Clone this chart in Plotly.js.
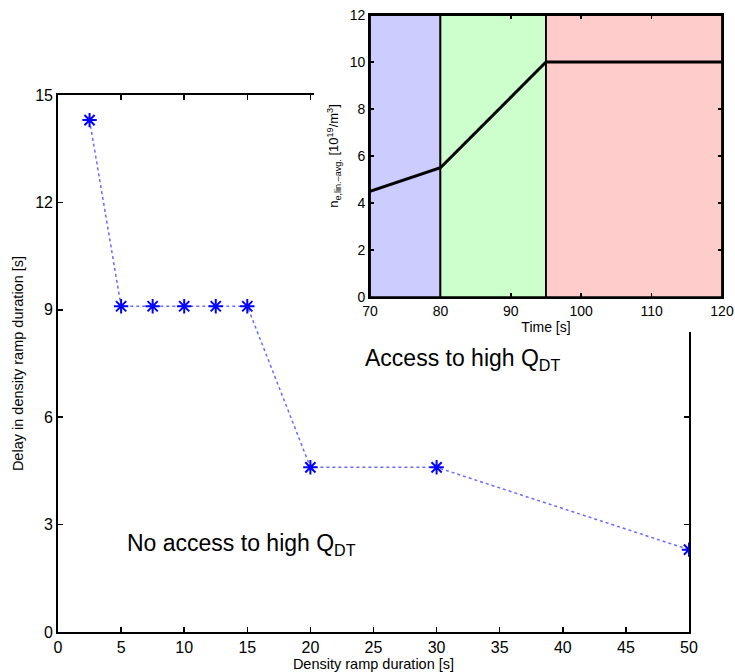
<!DOCTYPE html>
<html>
<head>
<meta charset="utf-8">
<script src="https://cdn.plot.ly/plotly-3.0.1.min.js"></script>
<style>html,body{margin:0;padding:0;background:#fff;}#chart{width:735px;height:672px;}</style>
</head>
<body>
<div id="chart"></div>
<script>
// Main chart data
const rampDuration = [2.5, 5, 7.5, 10, 12.5, 15, 20, 30, 50];
const delay = [14.3, 9.1, 9.1, 9.1, 9.1, 9.1, 4.6, 4.6, 2.3];
const mainXTicks = [0, 5, 10, 15, 20, 25, 30, 35, 40, 45, 50];
const mainYTicks = [0, 3, 6, 9, 12, 15];

// Inset data
const time = [70, 80, 95, 120];
const density = [4.5, 5.5, 10, 10];
const phaseStart = [70, 80, 95];
const phaseEnd = [80, 95, 120];
const phaseColors = ['#ccccff', '#ccffcc', '#ffcccc'];
const insetXTicks = [70, 80, 90, 100, 110, 120];
const insetYTicks = [0, 2, 4, 6, 8, 10, 12];
const insetYMax = 12;

const FONT = 'Liberation Sans, Arial, sans-serif';

const traces = [];
// main series
traces.push({
  x: rampDuration, y: delay, xaxis: 'x', yaxis: 'y',
  mode: 'lines+markers', type: 'scatter',
  line: {color: '#6a6aff', width: 1.5, dash: 'dot'},
  marker: {symbol: 'asterisk-open', size: 12, color: '#0000ff', line: {color: '#0000ff', width: 2}},
  hoverinfo: 'x+y'
});
// white cover behind inset (hides part of main axes box)
traces.push({
  x: [0, 1, 1, 0, 0], y: [0, 0, 1, 1, 0], xaxis: 'x2', yaxis: 'y2',
  type: 'scatter', mode: 'lines', fill: 'toself', fillcolor: '#ffffff',
  line: {width: 0, color: '#ffffff'}, hoverinfo: 'skip'
});
// inset phase regions
for (let i = 0; i < phaseStart.length; i++) {
  traces.push({
    x: [phaseStart[i], phaseEnd[i], phaseEnd[i], phaseStart[i], phaseStart[i]],
    y: [0, 0, insetYMax, insetYMax, 0],
    xaxis: 'x3', yaxis: 'y3', type: 'scatter', mode: 'lines', fill: 'toself',
    fillcolor: phaseColors[i], line: {color: '#000000', width: 1.8}, hoverinfo: 'skip'
  });
}
// inset density line
traces.push({
  x: time, y: density, xaxis: 'x3', yaxis: 'y3', type: 'scatter', mode: 'lines',
  line: {color: '#000000', width: 3}
});

const axisCommon = {
  showline: true, linecolor: '#000', linewidth: 1.8, mirror: 'ticks',
  ticks: 'inside', ticklen: 5, tickwidth: 1.5, tickcolor: '#000',
  showgrid: false, zeroline: false, tickfont: {family: FONT, size: 16, color: '#000'}
};

const layout = {
  width: 735, height: 672,
  margin: {l: 58, r: 13, t: 15, b: 40},
  paper_bgcolor: '#fff', plot_bgcolor: 'rgba(0,0,0,0)',
  showlegend: false,
  font: {family: FONT, color: '#000'},
  xaxis: Object.assign({}, axisCommon, {
    domain: [0, 0.9503], range: [0, 50], tickvals: mainXTicks,
    anchor: 'y',
    title: {text: 'Density ramp duration [s]', font: {family: FONT, size: 14.5}, standoff: 0}
  }),
  yaxis: Object.assign({}, axisCommon, {
    domain: [0, 0.8703], range: [0, 15], tickvals: mainYTicks,
    anchor: 'x',
    title: {text: 'Delay in density ramp duration [s]', font: {family: FONT, size: 14.5}, standoff: 8}
  }),
  xaxis2: {domain: [0.3855, 1], range: [0, 1], visible: false, anchor: 'y2', fixedrange: true},
  yaxis2: {domain: [0.4862, 1], range: [0, 1], visible: false, anchor: 'x2', fixedrange: true},
  xaxis3: Object.assign({}, axisCommon, {
    domain: [0.4699, 1], range: [70, 120], tickvals: insetXTicks, anchor: 'y3',
    ticklen: 4, tickfont: {family: FONT, size: 14, color: '#000'},
    title: {text: 'Time [s]', font: {family: FONT, size: 14}, standoff: 0}
  }),
  yaxis3: Object.assign({}, axisCommon, {
    domain: [0.5429, 1], range: [0, 12], tickvals: insetYTicks, anchor: 'x3',
    ticklen: 4, tickfont: {family: FONT, size: 14, color: '#000'},
    title: {text: 'n<sub>e,lin.\u2013avg.</sub> [10<sup>19</sup>/m<sup>3</sup>]', font: {family: FONT, size: 13}, standoff: 8}
  }),
  annotations: [
    {x: 24.2, y: 7.6, xref: 'x', yref: 'y', xanchor: 'left', yanchor: 'middle', showarrow: false,
     text: 'Access to high Q<sub>DT</sub>', font: {family: FONT, size: 23, color: '#000'}},
    {x: 5.3, y: 2.45, xref: 'x', yref: 'y', xanchor: 'left', yanchor: 'middle', showarrow: false,
     text: 'No access to high Q<sub>DT</sub>', font: {family: FONT, size: 23, color: '#000'}}
  ]
};

Plotly.newPlot('chart', traces, layout, {displayModeBar: false, staticPlot: true});
</script>
</body>
</html>
